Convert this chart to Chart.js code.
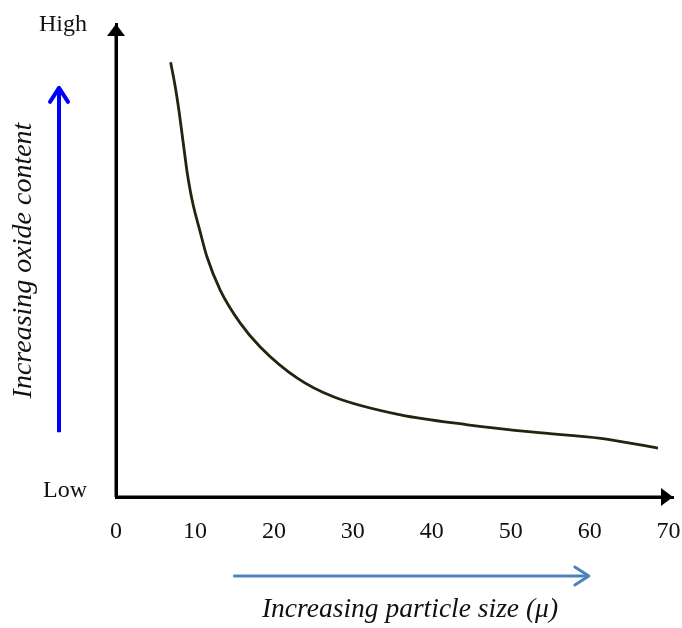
<!DOCTYPE html>
<html>
<head>
<meta charset="utf-8">
<title>Oxide content vs particle size</title>
<script src="https://cdn.jsdelivr.net/npm/chart.js@4.4.1/dist/chart.umd.min.js"></script>
<style>
  html, body { margin: 0; padding: 0; background: #ffffff; }
  #wrap { width: 682px; height: 628px; position: relative; }
</style>
</head>
<body>
<div id="wrap"><canvas id="chart"></canvas></div>
<script>
// Particle size (microns) along the curve
const particleSize = [6.92, 7.49, 8.0, 8.5, 9.01, 9.39, 9.77, 10.66, 11.51, 13.2, 15.74, 18.27, 22.97, 27.54, 36.04, 44.54, 52.92, 61.42, 68.65];
// Relative oxide content (0 = low, ~100 = high)
const oxideContent = [93.3, 88.2, 82.6, 76.2, 69.7, 65.9, 62.7, 56.9, 51.6, 44.4, 37.3, 32.2, 25.5, 21.5, 17.6, 15.5, 13.9, 12.6, 10.5];

const xTickValues = [0, 10, 20, 30, 40, 50, 60, 70];
const yTickValues = [0, 100];
const yTickLabels = ['Low', 'High'];

const xAxisText = 'Increasing particle size (\u03bc)';
const yAxisText = 'Increasing oxide content';

const serif = '"Liberation Serif", "Times New Roman", serif';

function drawArrow(ctx, x1, y1, x2, y2, color, width, headLen, headHalf, filled) {
  const ang = Math.atan2(y2 - y1, x2 - x1);
  ctx.save();
  ctx.strokeStyle = color;
  ctx.fillStyle = color;
  ctx.lineWidth = width;
  ctx.lineCap = 'butt';
  ctx.beginPath();
  ctx.moveTo(x1, y1);
  const back = filled ? headLen * 0.8 : 1;
  ctx.lineTo(x2 - Math.cos(ang) * back, y2 - Math.sin(ang) * back);
  ctx.stroke();
  const bx = x2 - Math.cos(ang) * headLen, by = y2 - Math.sin(ang) * headLen;
  const px = -Math.sin(ang) * headHalf, py = Math.cos(ang) * headHalf;
  ctx.beginPath();
  if (filled) {
    ctx.moveTo(x2, y2);
    ctx.lineTo(bx + px, by + py);
    ctx.lineTo(bx - px, by - py);
    ctx.closePath();
    ctx.fill();
  } else {
    ctx.lineCap = 'round';
    ctx.lineJoin = 'round';
    ctx.moveTo(bx + px, by + py);
    ctx.lineTo(x2, y2);
    ctx.lineTo(bx - px, by - py);
    ctx.stroke();
  }
  ctx.restore();
}

// Keep the plot area fixed: no extra room reserved for overhanging tick labels
function noOverhang(scale) {
  scale.paddingLeft = 0;
  scale.paddingRight = 0;
  scale.paddingTop = 0;
  scale.paddingBottom = 0;
}

// Arrowheads on the axes plus the "increasing" indicator arrows and caption
const decorations = {
  id: 'decorations',
  afterDraw(chart) {
    const ctx = chart.ctx;
    const area = chart.chartArea;
    const xs = chart.scales.x;
    const ys = chart.scales.y;
    const x0 = xs.getPixelForValue(0);
    const y0 = ys.getPixelForValue(0);

    // axis arrowheads
    drawArrow(ctx, x0, y0, x0, area.top, '#000', 3, 12, 9, true);
    drawArrow(ctx, x0, y0, area.right, y0, '#000', 3, 12, 9, true);

    // vertical indicator arrow
    drawArrow(ctx, 59, ys.getPixelForValue(13.9), 59, ys.getPixelForValue(87.8), '#0000ff', 4, 14, 9, false);

    // horizontal indicator arrow
    drawArrow(ctx, xs.getPixelForValue(14.85), 576, xs.getPixelForValue(59.9), 576, '#4f81bd', 3, 14, 9, false);

    // x caption
    ctx.save();
    ctx.font = 'italic 27.5px ' + serif;
    ctx.fillStyle = '#111';
    ctx.textAlign = 'center';
    ctx.textBaseline = 'middle';
    ctx.fillText(xAxisText, 410, 610);
    ctx.restore();
  }
};

new Chart(document.getElementById('chart'), {
  type: 'scatter',
  data: {
    datasets: [{
      data: particleSize.map((x, i) => ({ x: x, y: oxideContent[i] })),
      showLine: true,
      borderColor: '#23230e',
      borderWidth: 2.8,
      pointRadius: 0,
      cubicInterpolationMode: 'monotone',
      fill: false
    }]
  },
  options: {
    responsive: true,
    maintainAspectRatio: false,
    animation: false,
    layout: { autoPadding: false, padding: { top: 24, right: 9, left: 0, bottom: 0 } },
    plugins: { legend: { display: false }, tooltip: { enabled: false } },
    scales: {
      x: {
        type: 'linear',
        min: 0,
        max: 70.56,
        grid: { display: false, drawTicks: false },
        border: { display: true, color: '#000', width: 3 },
        afterBuildTicks(scale) { scale.ticks = xTickValues.map(v => ({ value: v })); },
        afterFit(scale) { scale.height = 131; noOverhang(scale); },
        ticks: {
          color: '#111',
          padding: 20,
          maxRotation: 0,
          autoSkip: false,
          font: { family: serif, size: 24 }
        }
      },
      y: {
        type: 'linear',
        min: 0,
        max: 101.5,
        grid: { display: false, drawTicks: false },
        border: { display: true, color: '#000', width: 3 },
        afterBuildTicks(scale) { scale.ticks = yTickValues.map(v => ({ value: v })); },
        afterFit(scale) { scale.width = 116; noOverhang(scale); },
        title: {
          display: true,
          text: yAxisText,
          color: '#111',
          padding: { top: 7, bottom: 0 },
          font: { family: serif, size: 28, style: 'italic' }
        },
        ticks: {
          color: '#111',
          padding: 29,
          labelOffset: -6,
          autoSkip: false,
          font: { family: serif, size: 24 },
          callback(value) {
            const i = yTickValues.indexOf(value);
            return i >= 0 ? yTickLabels[i] : '';
          }
        }
      }
    }
  },
  plugins: [decorations]
});
</script>
</body>
</html>
